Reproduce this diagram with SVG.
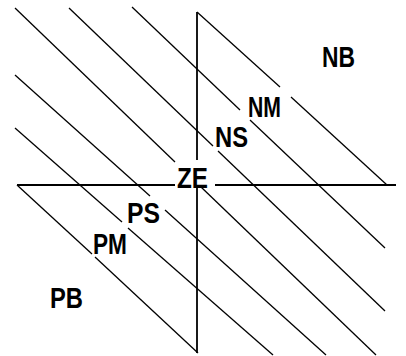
<svg xmlns="http://www.w3.org/2000/svg" width="406" height="356" viewBox="0 0 406 356">
<style>
.ax{stroke:#000;stroke-width:1.8;fill:none;stroke-linecap:butt}
.ln{stroke:#000;stroke-width:1.3;fill:none}
.lb{font-family:"Liberation Sans Narrow","Liberation Sans",Arial,sans-serif;font-size:30px;font-weight:bold;fill:#000}
</style>
<rect width="406" height="356" fill="#fff"/>
<g id="axes">
<line class="ax" x1="17" y1="185" x2="175" y2="185"/>
<line class="ax" x1="215" y1="185" x2="396" y2="185"/>
<line class="ax" x1="197" y1="12" x2="197" y2="160"/>
<line class="ax" x1="197" y1="188" x2="197" y2="353"/>
</g>
<g id="connectors">
<polyline class="ln" points="197,12 280,87"/>
<polyline class="ln" points="291,97 387,185"/>
<polyline class="ln" points="132,7 240,110"/>
<polyline class="ln" points="250,120 385,248"/>
<polyline class="ln" points="69,8 213,146"/>
<polyline class="ln" points="218,151 385,311"/>
<polyline class="ln" points="15,8 175,162"/>
<polyline class="ln" points="201,187 376,355"/>
<polyline class="ln" points="15,75 150,196"/>
<polyline class="ln" points="165,210 326,355"/>
<polyline class="ln" points="15,128 122,222"/>
<polyline class="ln" points="128,228 273,355"/>
<polyline class="ln" points="17,185 92,254"/>
<polyline class="ln" points="95,257 198,353"/>
</g>
<g id="NB"><text class="lb" x="322" y="67" textLength="33" lengthAdjust="spacingAndGlyphs">NB</text></g>
<g id="NM"><text class="lb" x="248" y="117" textLength="33" lengthAdjust="spacingAndGlyphs">NM</text></g>
<g id="NS"><text class="lb" x="215" y="147" textLength="33" lengthAdjust="spacingAndGlyphs">NS</text></g>
<g id="ZE"><text class="lb" x="177" y="188" textLength="31" lengthAdjust="spacingAndGlyphs">ZE</text></g>
<g id="PS"><text class="lb" x="127" y="223" textLength="33" lengthAdjust="spacingAndGlyphs">PS</text></g>
<g id="PM"><text class="lb" x="93" y="254" textLength="34" lengthAdjust="spacingAndGlyphs">PM</text></g>
<g id="PB"><text class="lb" x="50" y="308" textLength="33" lengthAdjust="spacingAndGlyphs">PB</text></g>
</svg>
